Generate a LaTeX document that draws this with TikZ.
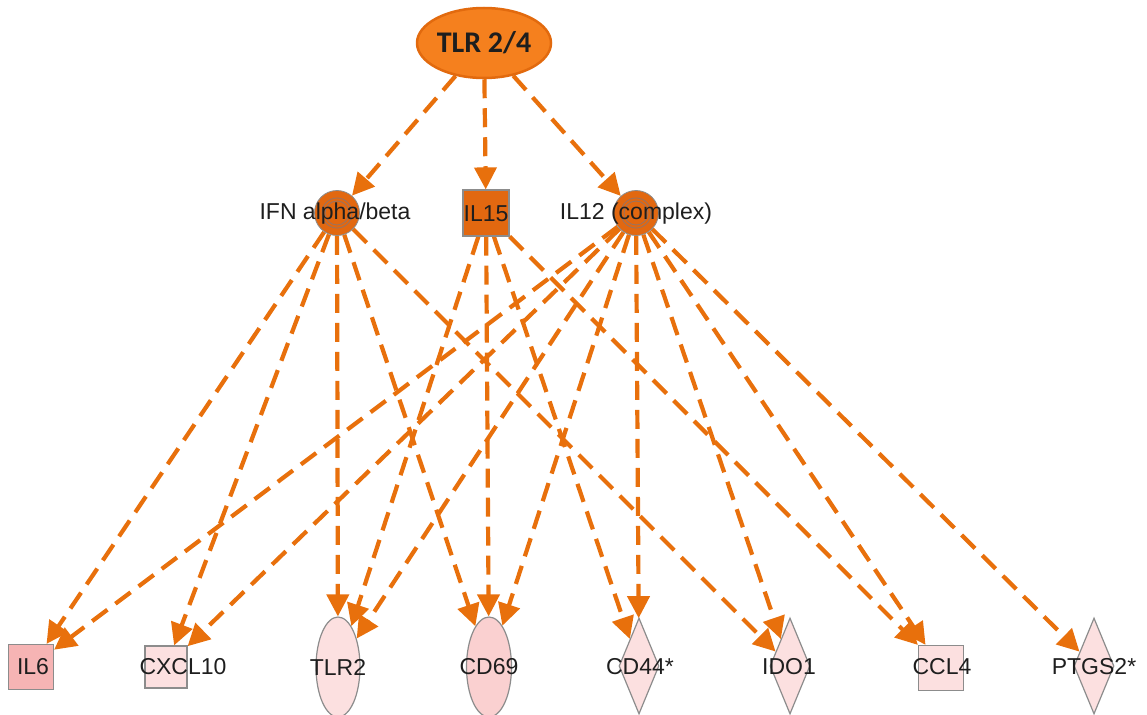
\documentclass[tikz,border=0pt]{standalone}
\usepackage{fontspec}
\setmainfont{Liberation Sans}
\newfontfamily\calib{Carlito}
\usetikzlibrary{arrows.meta,shapes.geometric}

\definecolor{edgeor}{RGB}{232,112,12}
\definecolor{tlrfill}{RGB}{245,128,30}
\definecolor{tlrdraw}{RGB}{226,106,14}
\definecolor{hubfill}{RGB}{226,104,16}
\definecolor{ringgray}{RGB}{150,115,100}
\definecolor{nodegray}{RGB}{140,140,140}
\definecolor{il6fill}{RGB}{246,180,180}
\definecolor{palefill}{RGB}{252,224,224}
\definecolor{cd69fill}{RGB}{250,208,208}
\definecolor{txt}{RGB}{30,30,30}

\pgfdeclarelayer{links}
\pgfsetlayers{links,main}

\begin{document}
\begin{tikzpicture}[x=1pt,y=-1pt,
  lbl/.style={font=\fontsize{23}{26}\selectfont, text=txt, inner sep=0pt},
  hub/.style={circle, minimum size=45pt, inner sep=0pt, fill=hubfill,
    draw=nodegray, line width=0.8pt,
    path picture={\draw[ringgray, line width=0.8pt]
      (path picture bounding box.center) circle (15pt) circle (12pt);}},
  sq/.style={rectangle, minimum size=45pt, inner sep=0pt, draw=nodegray, line width=1.2pt},
  oval/.style={ellipse, minimum width=44pt, minimum height=100pt, inner sep=0pt,
    draw=nodegray, line width=1.2pt},
  dia/.style={diamond, minimum width=40pt, minimum height=96pt, inner sep=0pt,
    draw=nodegray, line width=1.2pt},
  link/.style={draw=edgeor, line width=4.2pt, dash pattern=on 19pt off 10pt,
    -{Triangle[length=22pt,width=22pt]}}
]
\useasboundingbox (0,0) rectangle (1147,714);

% top regulator
\node[ellipse, minimum width=134pt, minimum height=70pt, inner sep=0pt,
  fill=tlrfill, draw=tlrdraw, line width=2.5pt, text=txt,
  font=\calib\bfseries\fontsize{30}{32}\selectfont] (tlr) at (484,43) {TLR 2/4};

% intermediate regulators
\node[hub] (ifn) at (337,213) {};
\node[sq, minimum size=46pt, fill=hubfill] (il15) at (486,213) {};
\node[hub] (il12) at (636,213) {};

% downstream molecules
\node[sq, fill=il6fill] (il6) at (31,667) {};
\node[sq, minimum size=42pt, fill=palefill] (cxcl) at (166,667) {};
\node[oval, fill=palefill] (tlr2) at (338,667) {};
\node[oval, minimum width=45pt, fill=cd69fill] (cd69) at (489,667) {};
\node[dia, fill=palefill] (cd44) at (639,666) {};
\node[dia, fill=palefill] (ido) at (790,666) {};
\node[sq, fill=palefill] (ccl4) at (941,668) {};
\node[dia, fill=palefill] (ptgs) at (1094,666) {};

% relationships
\begin{pgfonlayer}{links}
\foreach \s/\t in {tlr/ifn, tlr/il15, tlr/il12,
    ifn/il6, ifn/cxcl, ifn/tlr2, ifn/cd69, ifn/ido,
    il15/tlr2, il15/cd69, il15/cd44, il15/ccl4,
    il12/il6, il12/cxcl, il12/tlr2, il12/cd69, il12/cd44, il12/ido, il12/ccl4, il12/ptgs}
  \draw[link] (\s) -- (\t);
\end{pgfonlayer}

% labels
\node[lbl] (ifn-t) at (335,214) {IFN alpha/beta};
\node[lbl] (il15-t) at (486,214) {IL15};
\node[lbl] (il12-t) at (636,214) {IL12 (complex)};
\node[lbl] (il6-t) at (33,667) {IL6};
\node[lbl] (cxcl-t) at (183,667) {CXCL10};
\node[lbl] (tlr2-t) at (338,667) {TLR2};
\node[lbl] (cd69-t) at (489,667) {CD69};
\node[lbl] (cd44-t) at (640,667) {CD44*};
\node[lbl] (ido-t) at (789,667) {IDO1};
\node[lbl] (ccl4-t) at (942,667) {CCL4};
\node[lbl] (ptgs-t) at (1094,667) {PTGS2*};
\end{tikzpicture}
\end{document}
